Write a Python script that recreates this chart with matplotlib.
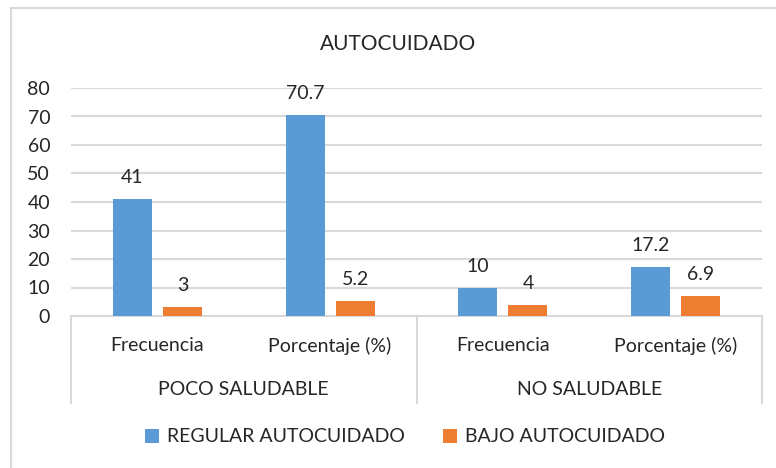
import matplotlib
matplotlib.use("Agg")
import matplotlib.pyplot as plt
from matplotlib.lines import Line2D
import numpy as np

plt.rcParams['font.family'] = ['Lato', 'DejaVu Sans']

title = "AUTOCUIDADO"
categories = ["Frecuencia", "Porcentaje (%)", "Frecuencia", "Porcentaje (%)"]
groups = ["POCO SALUDABLE", "NO SALUDABLE"]
series_names = ["REGULAR AUTOCUIDADO", "BAJO AUTOCUIDADO"]
regular = [41, 70.7, 10, 17.2]
bajo = [3, 5.2, 4, 6.9]
yticks = [0, 10, 20, 30, 40, 50, 60, 70, 80]
colors = ["#5B9BD5", "#ED7D31"]

W, H = 776, 468
fs = 14
fig = plt.figure(figsize=(W / 100, H / 100), dpi=100)
fig.patch.set_facecolor("white")

# chart border (left and top visible)
fig.add_artist(Line2D([11 / W, 11 / W], [0, 1 - 8 / H], transform=fig.transFigure, color="#d9d9d9", lw=1.5))
fig.add_artist(Line2D([11 / W, 1], [1 - 8 / H, 1 - 8 / H], transform=fig.transFigure, color="#d9d9d9", lw=1.5))

x0, x1, ytop, ybot = 71, 762, 88, 316
ax = fig.add_axes([x0 / W, 1 - ybot / H, (x1 - x0) / W, (ybot - ytop) / H])
ax.set_xlim(-0.5, len(categories) - 0.5)
ax.set_ylim(0, 80)

x = np.arange(len(categories))
bw = 0.226
off = 0.145
b1 = ax.bar(x - off, regular, bw, color=colors[0], label=series_names[0], zorder=3)
b2 = ax.bar(x + off, bajo, bw, color=colors[1], label=series_names[1], zorder=3)

for bars, vals in ((b1, regular), (b2, bajo)):
    for rect, v in zip(bars, vals):
        ax.annotate(f"{v:g}", (rect.get_x() + rect.get_width() / 2, rect.get_height()),
                    xytext=(0, 11.5), textcoords="offset points", ha="center", va="baseline",
                    fontsize=fs, color="#262626")

ax.set_yticks(yticks)
ax.yaxis.grid(True, color="#d9d9d9", lw=1.5, zorder=0)
ax.tick_params(axis="y", length=0, pad=15, labelsize=fs, labelcolor="#262626")
for s in ["top", "right", "left"]:
    ax.spines[s].set_visible(False)
ax.spines["bottom"].set_color("#d9d9d9")
ax.spines["bottom"].set_linewidth(1.5)

ax.set_xticks(x)
ax.set_xticklabels(categories, fontsize=fs, color="#262626")
ax.tick_params(axis="x", length=0, pad=15)

# category axis separators
axh = ybot - ytop
yb = -(403 - ybot) / axh
for xs in [-0.5, 1.5, 3.5]:
    ax.plot([xs, xs], [0, yb], transform=ax.get_xaxis_transform(), color="#d9d9d9", lw=1.5, clip_on=False)

ygrp = -(389 - ybot) / axh
for i, g in enumerate(groups):
    ax.text(2 * i + 0.5, ygrp, g, transform=ax.get_xaxis_transform(), ha="center", va="center",
            fontsize=fs, color="#262626")

fig.text(398 / W, 1 - 44 / H, title, ha="center", va="center", fontsize=15, color="#262626")

leg = fig.legend(handles=[b1, b2], labels=series_names, loc="center", bbox_to_anchor=(405 / W, 1 - 437 / H),
                 ncol=2, frameon=False, fontsize=fs, handlelength=0.7, handleheight=0.7,
                 handletextpad=0.4, columnspacing=2.0, labelcolor="#262626")

fig.savefig("out.png", dpi=100)
